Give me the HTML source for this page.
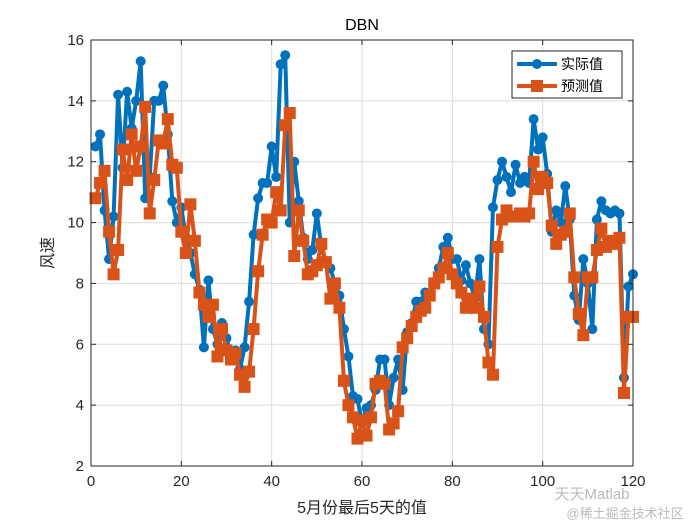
<!DOCTYPE html>
<html><head><meta charset="utf-8"><style>
body{margin:0;background:#fff;width:700px;height:525px;overflow:hidden}
svg{font-family:"Liberation Sans","Noto Sans CJK SC",sans-serif}
</style></head><body>
<svg id="c" width="700" height="525">
<rect x="0" y="0" width="700" height="525" fill="#fff"/>
</svg>
<script>
const xTicks=[0,20,40,60,80,100,120];
const yTicks=[2,4,6,8,10,12,14,16];
const actual=[12.5,12.9,10.4,8.8,10.2,14.2,11.8,14.3,13.1,14.0,15.3,10.8,11.5,14.0,14.0,14.5,12.9,10.7,10.0,10.5,9.5,9.0,8.3,7.8,5.9,8.1,6.5,6.0,6.7,6.2,5.6,5.8,5.2,5.9,7.4,9.6,10.8,11.3,11.3,12.5,11.5,15.2,15.5,10.0,12.0,10.7,9.5,8.8,9.1,10.3,9.2,8.7,8.5,8.0,7.6,6.5,5.6,4.3,4.2,3.4,3.9,4.0,4.5,5.5,5.5,4.0,4.9,5.5,4.5,6.4,6.7,7.4,7.4,7.7,7.6,8.0,8.5,9.2,9.5,8.8,8.8,8.1,8.6,8.0,7.5,8.8,6.5,6.0,10.5,11.4,12.0,11.5,11.0,11.9,11.3,11.5,11.3,13.4,12.4,12.8,11.6,9.7,10.4,10.0,11.2,10.1,7.6,6.8,8.8,8.0,6.5,10.1,10.7,10.4,10.3,10.4,10.3,4.9,7.9,8.3];
const predicted=[10.8,11.3,11.7,9.7,8.3,9.1,12.4,11.4,12.9,11.7,12.5,13.8,10.3,11.4,12.7,12.6,13.4,11.9,11.8,9.7,9.0,10.6,9.4,7.7,7.3,6.9,7.3,5.6,6.5,5.8,5.5,5.7,5.0,4.6,5.1,6.5,8.4,9.6,10.1,10.0,11.0,10.4,13.2,13.6,8.9,10.4,9.4,8.3,8.4,8.6,9.3,8.7,7.5,8.0,7.2,4.8,4.0,3.6,2.9,3.5,3.0,3.6,4.7,4.8,4.7,3.2,3.4,3.8,5.9,6.2,6.6,6.9,7.1,7.2,7.6,8.0,8.2,8.5,9.0,8.3,8.0,7.7,7.2,7.5,7.2,7.9,6.9,5.4,5.0,9.2,10.1,10.4,10.2,10.2,10.3,10.2,10.3,12.0,11.1,11.5,11.3,9.9,9.3,9.6,9.7,10.3,8.2,7.0,6.3,8.2,8.2,9.1,9.8,9.2,9.4,9.3,9.5,4.4,6.9,6.9];
const L=91,R=633,T=40,B=466;
const xs=v=>L+(v-0)/(120-0)*(R-L);
const ys=v=>B-(v-2)/(16-2)*(B-T);
const svg=document.getElementById('c');
const NS='http://www.w3.org/2000/svg';
function mk(t,a,p){const e=document.createElementNS(NS,t);for(const k in a)e.setAttribute(k,a[k]);(p||svg).appendChild(e);return e;}
const grid=mk('g',{});


xTicks.forEach(v=>{const l=mk('line',{x1:xs(v),x2:xs(v),y1:T,y2:B,stroke:'#dcdcdc','stroke-width':1},grid);

});
yTicks.forEach(v=>{const l=mk('line',{x1:L,x2:R,y1:ys(v),y2:ys(v),stroke:'#dcdcdc','stroke-width':1},grid);

});
function series(vals,color,marker,name){
 const g=mk('g',{});
 
 
 const pts=vals.map((v,i)=>xs(i+1)+','+ys(v)).join(' ');
 mk('polyline',{points:pts,fill:'none',stroke:color,'stroke-width':4,'stroke-linejoin':'round'},g);
 vals.forEach((v,i)=>{let m;
  if(marker==='c')m=mk('circle',{cx:xs(i+1),cy:ys(v),r:5,fill:color},g);
  else m=mk('rect',{x:xs(i+1)-6,y:ys(v)-6,width:12,height:12,fill:color},g);
  
  });
}
series(actual,'#0072BD','c','actual-series');
series(predicted,'#D95319','s','predicted-series');
const ax=mk('rect',{x:L,y:T,width:R-L,height:B-T,fill:'none',stroke:'#262626','stroke-width':1});


xTicks.forEach(v=>{mk('line',{x1:xs(v),x2:xs(v),y1:B,y2:B-5,stroke:'#262626'});mk('line',{x1:xs(v),x2:xs(v),y1:T,y2:T+5,stroke:'#262626'});
 const t=mk('text',{x:xs(v),y:B+20,'text-anchor':'middle','font-size':15,fill:'#262626'});t.textContent=v;
 
 });
yTicks.forEach(v=>{mk('line',{x1:L,x2:L+5,y1:ys(v),y2:ys(v),stroke:'#262626'});mk('line',{x1:R,x2:R-5,y1:ys(v),y2:ys(v),stroke:'#262626'});
 const t=mk('text',{x:L-7,y:ys(v)+5,'text-anchor':'end','font-size':15,fill:'#262626'});t.textContent=v;
 
 });
</script>
<svg width="700" height="525" style="position:absolute;left:0;top:0">
<text x="362" y="30" text-anchor="middle" font-size="16" fill="#000">DBN</text>
<text x="362" y="513" text-anchor="middle" font-size="16" fill="#262626">5月份最后5天的值</text>
<text transform="translate(53,253) rotate(-90)" text-anchor="middle" font-size="16" fill="#262626">风速</text>
<g>
<rect x="512" y="51" width="110" height="47" fill="#fff" stroke="#262626" stroke-width="1"/>
<g>
<line x1="517" y1="64" x2="557" y2="64" stroke="#0072BD" stroke-width="4"/><circle cx="537" cy="64" r="5" fill="#0072BD"/>
<text x="561" y="69" font-size="14" fill="#000">实际值</text></g>
<g>
<line x1="517" y1="86" x2="557" y2="86" stroke="#D95319" stroke-width="4"/><rect x="531" y="80" width="12" height="12" fill="#D95319"/>
<text x="561" y="91" font-size="14" fill="#000">预测值</text></g>
</g>
<text x="592" y="499" text-anchor="middle" font-size="15" fill="#bbb">天天Matlab</text>
<text x="625" y="518" text-anchor="middle" font-size="13" fill="#bbb">@稀土掘金技术社区</text>
</svg>
</body></html>
